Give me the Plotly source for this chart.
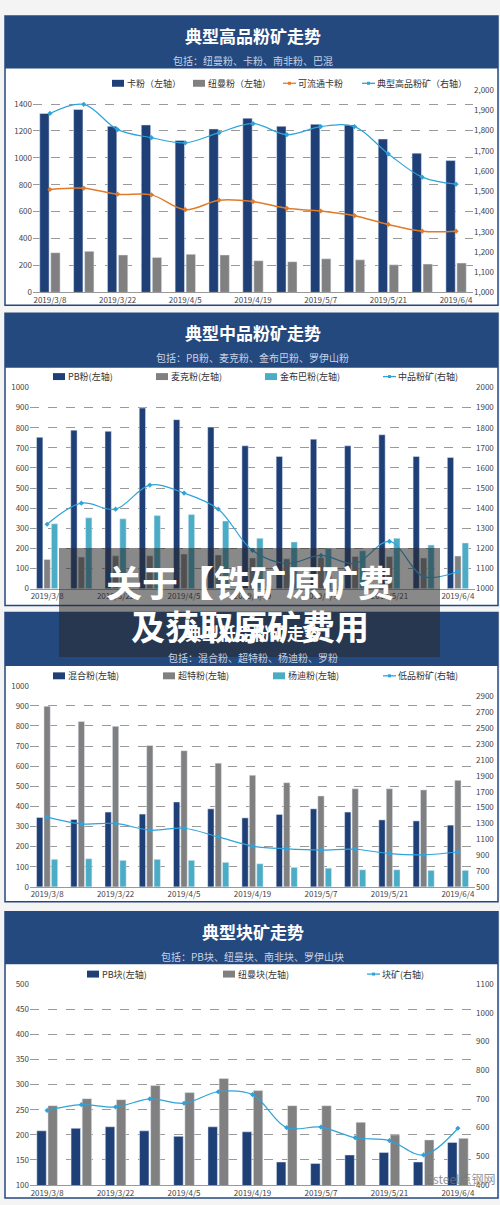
import plotly.graph_objects as go

dates = ["2019/3/8","2019/3/15","2019/3/22","2019/3/29","2019/4/5","2019/4/12","2019/4/19",
         "2019/4/26","2019/5/7","2019/5/14","2019/5/21","2019/5/28","2019/6/4"]
tick_idx = [0,2,4,6,8,10,12]

# Panel 1
ka = [1330,1360,1235,1245,1130,1215,1295,1235,1250,1245,1140,1035,980]
niuman = [295,305,278,260,283,278,235,228,250,242,205,210,218]
ka_liutong = [765,775,730,725,615,685,675,625,605,570,505,455,455]
high_fine = [1885,1930,1805,1765,1740,1790,1835,1780,1820,1820,1685,1570,1535]
# Panel 2
pb = [752,788,782,898,840,803,710,657,743,710,765,657,652]
mac = [145,157,163,163,172,167,152,148,155,160,160,152,162]
jimblebar = [322,352,347,363,368,336,250,232,200,188,250,217,227]
mid_fine = [1320,1425,1395,1515,1475,1395,1190,1125,1165,1125,1235,1060,1085]
# Panel 3
mixed = [345,335,372,362,422,388,343,360,388,372,333,328,307]
super_sp = [898,822,798,703,677,615,555,518,452,488,488,482,530]
yandi = [137,140,132,137,132,122,115,97,93,85,85,82,82]
low_fine = [1380,1295,1300,1215,1240,1130,1015,980,965,975,920,905,940]
# Panel 4
pb_lump = [208,213,216,208,197,216,206,146,143,160,165,146,185]
nm_lump = [258,272,270,298,284,312,288,258,258,225,200,190,193]
lump = [660,680,672,700,685,725,715,600,602,565,555,505,598]

NAVY = "#1F3F77"; GRAY = "#808080"; TEAL = "#4BACC6"; ORANGE = "#E07B2A"; LBLUE = "#2EA3D9"
HEAD = "#24497F"
H = 1205
def py(p): return 1 - p / H

fig = go.Figure()
x = list(range(13))

panels = [
    dict(top=10, bot=302, htop=10, hbot=63, ytop=85, ybot=289, title="典型高品粉矿走势",
         sub="包括：纽曼粉、卡粉、南非粉、巴混", legy=78, legx=[112, 193, 283, 362],
         lrange=[0, 1400*204/190], ltick=list(range(0,1401,200)),
         rrange=[1000,2000], rtick=list(range(1000,2001,100)), rfmt=",",
         bars=[("卡粉（左轴）", ka, NAVY), ("纽曼粉（左轴）", niuman, GRAY)],
         llines=[("可流通卡粉", ka_liutong, ORANGE)],
         rlines=[("典型高品粉矿（右轴）", high_fine, LBLUE)]),
    dict(top=310, bot=605, htop=310, hbot=365, ytop=385, ybot=588, title="典型中品粉矿走势",
         sub="包括：PB粉、麦克粉、金布巴粉、罗伊山粉", legy=374, legx=[53, 156, 265, 383],
         lrange=[0,1000], ltick=list(range(0,1001,100)),
         rrange=[1000,2000], rtick=list(range(1000,2001,100)), rfmt="",
         bars=[("PB粉(左轴)", pb, NAVY), ("麦克粉(左轴)", mac, GRAY), ("金布巴粉(左轴)", jimblebar, TEAL)],
         llines=[], rlines=[("中品粉矿(右轴)", mid_fine, LBLUE)]),
    dict(top=612, bot=904, htop=612, hbot=666, ytop=686, ybot=889, title="典型低品粉矿走势",
         sub="包括：混合粉、超特粉、杨迪粉、罗粉", legy=676, legx=[53, 163, 273, 383],
         lrange=[0,1000], ltick=list(range(0,1001,100)),
         rrange=[500, 2900+200*11/16], rtick=list(range(500,2901,200)), rfmt="",
         bars=[("混合粉(左轴)", mixed, NAVY), ("超特粉(左轴)", super_sp, GRAY), ("杨迪粉(左轴)", yandi, TEAL)],
         llines=[], rlines=[("低品粉矿(右轴)", low_fine, LBLUE)]),
    dict(top=914, bot=1203, htop=914, hbot=967, ytop=987, ybot=1190, title="典型块矿走势",
         sub="包括：PB块、纽曼块、南非块、罗伊山块", legy=977, legx=[87, 223, 367],
         lrange=[100,500], ltick=list(range(100,501,50)),
         rrange=[400,1100], rtick=list(range(400,1101,100)), rfmt="",
         bars=[("PB块(左轴)", pb_lump, NAVY), ("纽曼块(左轴)", nm_lump, GRAY)],
         llines=[], rlines=[("块矿(右轴)", lump, LBLUE)]),
]

shapes = []; annotations = []
def ann(text, xp, yp, size, color, xanchor="center"):
    annotations.append(dict(text=text, x=xp, y=yp, xref="paper", yref="paper", xanchor=xanchor,
                            yanchor="middle", showarrow=False,
                            font=dict(size=size, color=color, family="Noto Sans CJK SC")))

for i, P in enumerate(panels):
    n = i + 1
    xa = "x" if n == 1 else f"x{n}"
    yl = f"y{2*n-1}" if n > 1 else "y"
    yr = f"y{2*n}"
    items = []
    for name, vals, col in P["bars"]:
        fig.add_trace(go.Bar(x=x, y=vals, name=name, marker_color=col, xaxis=xa, yaxis=yl,
                             offsetgroup=name, showlegend=False))
        items.append(("bar", name, col))
    for name, vals, col in P["llines"]:
        fig.add_trace(go.Scatter(x=x, y=vals, name=name, mode="lines+markers", line=dict(color=col, width=1.5, shape="spline"),
                                 marker=dict(size=4, symbol="diamond"), xaxis=xa, yaxis=yl, showlegend=False))
        items.append(("line", name, col))
    for name, vals, col in P["rlines"]:
        fig.add_trace(go.Scatter(x=x, y=vals, name=name, mode="lines+markers", line=dict(color=col, width=1.2, shape="spline"),
                                 marker=dict(size=4, symbol="diamond"), xaxis=xa, yaxis=yr, showlegend=False))
        items.append(("line", name, col))
    ly = P["legy"]
    for (kind, name, col), lx in zip(items, P["legx"]):
        if kind == "bar":
            shapes.append(dict(type="rect", xref="paper", yref="paper", x0=lx/500, x1=(lx+12)/500,
                               y0=py(ly+3.5), y1=py(ly-3.5), fillcolor=col, line=dict(width=0)))
        else:
            shapes.append(dict(type="line", xref="paper", yref="paper", x0=lx/500, x1=(lx+13)/500,
                               y0=py(ly), y1=py(ly), line=dict(color=col, width=1.3)))
            shapes.append(dict(type="rect", xref="paper", yref="paper", x0=(lx+5)/500, x1=(lx+8)/500,
                               y0=py(ly+1.5), y1=py(ly-1.5), fillcolor=col, line=dict(width=0)))
        ann(name, (lx+13)/500, py(ly), 9, "#333", xanchor="left")
    dom = [py(P["ybot"]), py(P["ytop"])]
    xdom = [0.066, 0.946] if n == 1 else [0.06, 0.95]
    axfont = dict(size=8, color="#444")
    fig.layout[f"xaxis{n if n>1 else ''}"] = dict(domain=xdom, anchor=yl, range=[-0.5, 12.5],
        tickvals=tick_idx, ticktext=[dates[j] for j in tick_idx], tickfont=axfont, showgrid=False,
        showline=True, linecolor="#999", ticks="", fixedrange=True)
    fig.layout[f"yaxis{2*n-1 if n>1 else ''}"] = dict(domain=dom, anchor=xa, range=P["lrange"],
        tickvals=P["ltick"], tickfont=axfont, showgrid=True, gridcolor="#9a9a9a", griddash="dash",
        gridwidth=0.8, zeroline=False, showline=False)
    fig.layout[f"yaxis{2*n}"] = dict(domain=dom, anchor=xa, overlaying=yl, side="right", range=P["rrange"],
        tickvals=P["rtick"], tickformat=P["rfmt"], tickfont=axfont, showgrid=False, zeroline=False)
    shapes.append(dict(type="rect", xref="paper", yref="paper", x0=0.01, x1=0.996, y0=py(P["bot"]), y1=py(P["top"]),
                       line=dict(color=HEAD, width=1.5), fillcolor="white", layer="below"))
    shapes.append(dict(type="rect", xref="paper", yref="paper", x0=0.01, x1=0.996, y0=py(P["hbot"]), y1=py(P["htop"]),
                       line=dict(width=0), fillcolor=HEAD, layer="below"))
    ann(f"<b>{P['title']}</b>", 0.505, py(P["htop"] + 20), 17, "white")
    ann(P["sub"], 0.505, py(P["htop"] + 45), 10, "#c8d2e4")

shapes.append(dict(type="rect", xref="paper", yref="paper", x0=59/500, x1=440/500, y0=py(657), y1=py(547),
                   line=dict(width=0), fillcolor="rgba(40,40,40,0.55)", layer="above"))
ann("<b>关于【铁矿原矿费</b>", 0.5, py(580), 36, "white")
ann("<b>及获取原矿费用</b>", 0.5, py(625), 34, "white")
ann("Esteel点钢网", 0.92, py(1183), 12, "rgba(120,120,120,0.8)")

fig.update_layout(autosize=True, margin=dict(l=0, r=0, t=0, b=0), paper_bgcolor="#f4f4f4",
                  plot_bgcolor="rgba(0,0,0,0)", barmode="group", bargap=0.35, bargroupgap=0.15,
                  shapes=shapes, annotations=annotations, showlegend=False,
                  font=dict(family="Noto Sans CJK SC, Noto Sans", size=9))
fig.write_html("out.html", default_width="100vw", default_height="100vh",
               config={"displayModeBar": False},
               post_script="document.body.style.margin='0';")
